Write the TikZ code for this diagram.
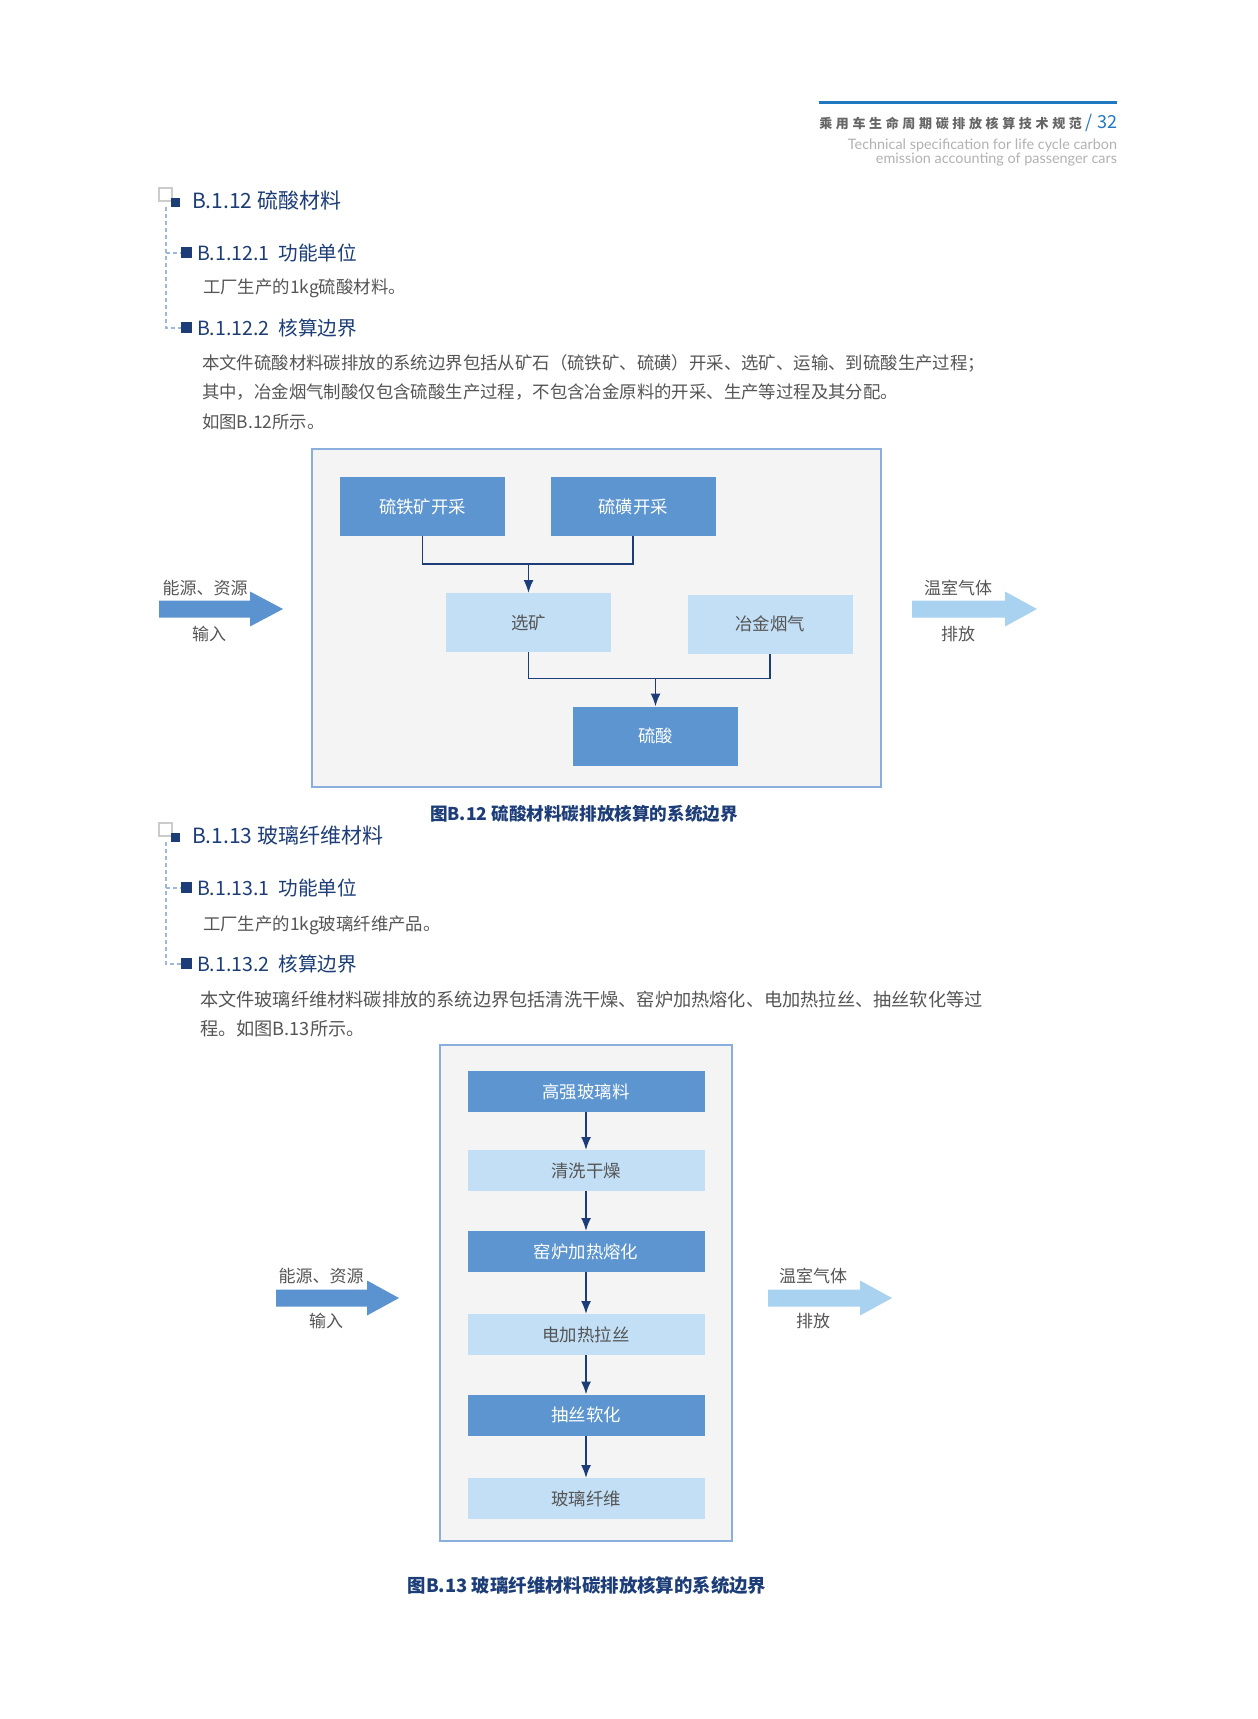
\documentclass[tikz,border=0pt]{standalone}
\usepackage{fontspec}
\setmainfont{Noto Sans CJK SC}
\newfontfamily\hdrfont[LetterSpace=28]{Noto Sans CJK SC}
\newfontfamily\enfont{Lato}
\usepackage{tikz}
\usetikzlibrary{arrows.meta,positioning}

\definecolor{navy}{HTML}{1C3D77}
\definecolor{boxdark}{HTML}{5C95CF}
\definecolor{boxlight}{HTML}{C3DFF5}
\definecolor{arrowdark}{HTML}{5A93D0}
\definecolor{arrowlight}{HTML}{A8D2F0}
\definecolor{framecol}{HTML}{8AAEDD}
\definecolor{framefill}{HTML}{F4F4F4}
\definecolor{txtgray}{HTML}{555555}
\definecolor{hdrblue}{HTML}{2079C0}
\definecolor{treecol}{HTML}{9DB8DC}

\newcommand\ioarrow[5]{% x start, head start, tip, y, colour
  \fill[#5] (#1,#4-8.5) -- (#2,#4-8.5) -- (#2,#4-17.5) -- (#3,#4)
    -- (#2,#4+17.5) -- (#2,#4+8.5) -- (#1,#4+8.5) -- cycle;}

\tikzset{
  procdark/.style={fill=boxdark, text=white, font=\fontsize{8.7pt}{10pt}\selectfont},
  proclight/.style={fill=boxlight, text=txtgray, font=\fontsize{8.7pt}{10pt}\selectfont},
  sizeA/.style={minimum width=82.5pt, minimum height=29.5pt},
  sizeB/.style={minimum width=118.5pt, minimum height=20.5pt},
  sysframe/.style={draw=framecol, fill=framefill, line width=1pt},
  conn/.style={draw=navy, line width=0.9pt},
  flow/.style={conn, -{Latex[length=6.5pt,width=5pt]}},
  iolabel/.style={text=txtgray, font=\fontsize{8.5pt}{10pt}\selectfont},
  sechead/.style={anchor=west, text=navy, font=\fontsize{10.5pt}{12pt}\selectfont},
  subhead/.style={anchor=west, text=navy, font=\fontsize{9.8pt}{11pt}\selectfont},
  bodytext/.style={anchor=west, text=txtgray, font=\fontsize{8.7pt}{10pt}\selectfont},
  caption/.style={text=navy, font=\fontsize{8.8pt}{10pt}\selectfont\bfseries},
  treeline/.style={draw=treecol, line width=0.6pt, dash pattern=on 2pt off 1.5pt},
}

\begin{document}
\begin{tikzpicture}[x=0.5pt,y=-0.5pt, every node/.style={inner sep=0pt, outer sep=0pt}]
	\useasboundingbox (0,0) rectangle (1258,1719);
	\fill[white] (0,0) rectangle (1258,1719);

	% page header
	\draw[hdrblue, line width=1.5pt] (819,102) -- (1117,102);
	\node[anchor=east] (title) at (1117,123) {{\hdrfont\fontsize{6.5pt}{8pt}\selectfont\bfseries\color{txtgray!90}乘用车生命周期碳排放核算技术规范}{\fontsize{9pt}{10pt}\selectfont\color{hdrblue}\ / 32}};
	\node[anchor=east, text=black!30, font=\enfont\fontsize{7.2pt}{8pt}\selectfont] (en1) at (1117,145) {Technical specification for life cycle carbon};
	\node[anchor=east, text=black!30, font=\enfont\fontsize{7.2pt}{8pt}\selectfont] (en2) at (1117,160) {emission accounting of passenger cars};

	% B.1.12 text
	\draw[draw=black!20, line width=0.6pt] (159,188) rectangle (172,201);
	\fill[navy] (171,198) rectangle (180,207);
	\draw[treeline] (166,207) -- (166,328) -- (181,328);
	\draw[treeline] (166,253) -- (181,253);
	\fill[navy] (181,247) rectangle (192,258);
	\fill[navy] (181,322) rectangle (192,333);
	\node[sechead] (h12) at (192,200) {B.1.12 硫酸材料};
	\node[subhead] (h121) at (197,253) {B.1.12.1\ \ 功能单位};
	\node[bodytext] (t121) at (203,288) {工厂生产的1kg硫酸材料。};
	\node[subhead] (h122) at (197,328) {B.1.12.2\ \ 核算边界};
	\node[bodytext] (p1a) at (202,363) {本文件硫酸材料碳排放的系统边界包括从矿石（硫铁矿、硫磺）开采、选矿、运输、到硫酸生产过程；};
	\node[bodytext] (p1b) at (202,392) {其中，冶金烟气制酸仅包含硫酸生产过程，不包含冶金原料的开采、生产等过程及其分配。};
	\node[bodytext] (p1c) at (202,422) {如图B.12所示。};

	% figure B.12
	\node[sysframe, minimum width=284.5pt, minimum height=169pt] (sys12) at (596.5,618) {};
	\node[procdark, sizeA] (pyrite) at (422.5,506.5) {硫铁矿开采};
	\node[procdark, sizeA] (sulfur) at (633,506.5) {硫磺开采};
	\node[proclight, sizeA] (benef) at (528.5,622.5) {选矿};
	\node[proclight, sizeA] (smelt) at (770,624) {冶金烟气};
	\node[procdark, sizeA] (acid) at (655.5,736) {硫酸};
	\coordinate (m1) at ([yshift=14.5pt]benef.north);
	\coordinate (m2) at ([yshift=14pt]acid.north);
	\draw[conn] (pyrite.south) |- (m1) -| (sulfur.south);
	\draw[flow] (m1) -- (benef.north);
	\draw[conn] (benef.south) |- (m2) -| (smelt.south);
	\draw[flow] (m2) -- (acid.north);

	\ioarrow{159}{250}{283}{609}{arrowdark}
	\ioarrow{912}{1005}{1037}{609}{arrowlight}
	\node[iolabel] (in12) at (205,588) {能源、资源};
	\node[iolabel] (inb12) at (209,634) {输入};
	\node[iolabel] (out12) at (958,588) {温室气体};
	\node[iolabel] (outb12) at (958,634) {排放};
	\node[caption] (cap12) at (584,814) {图B.12 硫酸材料碳排放核算的系统边界};

	% B.1.13 text
	\draw[draw=black!20, line width=0.6pt] (159,823) rectangle (172,836);
	\fill[navy] (171,833) rectangle (180,842);
	\draw[treeline] (166,842) -- (166,964) -- (181,964);
	\draw[treeline] (166,888) -- (181,888);
	\fill[navy] (181,882) rectangle (192,893);
	\fill[navy] (181,958) rectangle (192,969);
	\node[sechead] (h13) at (192,835) {B.1.13 玻璃纤维材料};
	\node[subhead] (h131) at (197,888) {B.1.13.1\ \ 功能单位};
	\node[bodytext] (t131) at (203,925) {工厂生产的1kg玻璃纤维产品。};
	\node[subhead] (h132) at (197,964) {B.1.13.2\ \ 核算边界};
	\node[bodytext, font=\fontsize{9.1pt}{10pt}\selectfont] (p2a) at (200,1000) {本文件玻璃纤维材料碳排放的系统边界包括清洗干燥、窑炉加热熔化、电加热拉丝、抽丝软化等过};
	\node[bodytext, font=\fontsize{9.1pt}{10pt}\selectfont] (p2b) at (200,1029) {程。如图B.13所示。};

	% figure B.13
	\node[sysframe, minimum width=146pt, minimum height=248pt] (sys13) at (586,1293) {};
	\node[procdark, sizeB] (g1) at (586,1091.5) {高强玻璃料};
	\node[proclight, sizeB] (g2) at (586,1170.5) {清洗干燥};
	\node[procdark, sizeB] (g3) at (586,1251.5) {窑炉加热熔化};
	\node[proclight, sizeB] (g4) at (586,1334.5) {电加热拉丝};
	\node[procdark, sizeB] (g5) at (586,1415) {抽丝软化};
	\node[proclight, sizeB] (g6) at (586,1498.5) {玻璃纤维};
	\foreach \a/\b in {g1/g2,g2/g3,g3/g4,g4/g5,g5/g6}
		\draw[flow] (\a) -- (\b);

	\ioarrow{276}{367}{399}{1298}{arrowdark}
	\ioarrow{768}{860}{892}{1298}{arrowlight}
	\node[iolabel] (in13) at (321,1276) {能源、资源};
	\node[iolabel] (inb13) at (326,1321) {输入};
	\node[iolabel] (out13) at (813,1276) {温室气体};
	\node[iolabel] (outb13) at (813,1321) {排放};
	\node[caption, font=\fontsize{9.2pt}{10pt}\selectfont\bfseries] (cap13) at (587,1585) {图B.13 玻璃纤维材料碳排放核算的系统边界};
\end{tikzpicture}
\end{document}
